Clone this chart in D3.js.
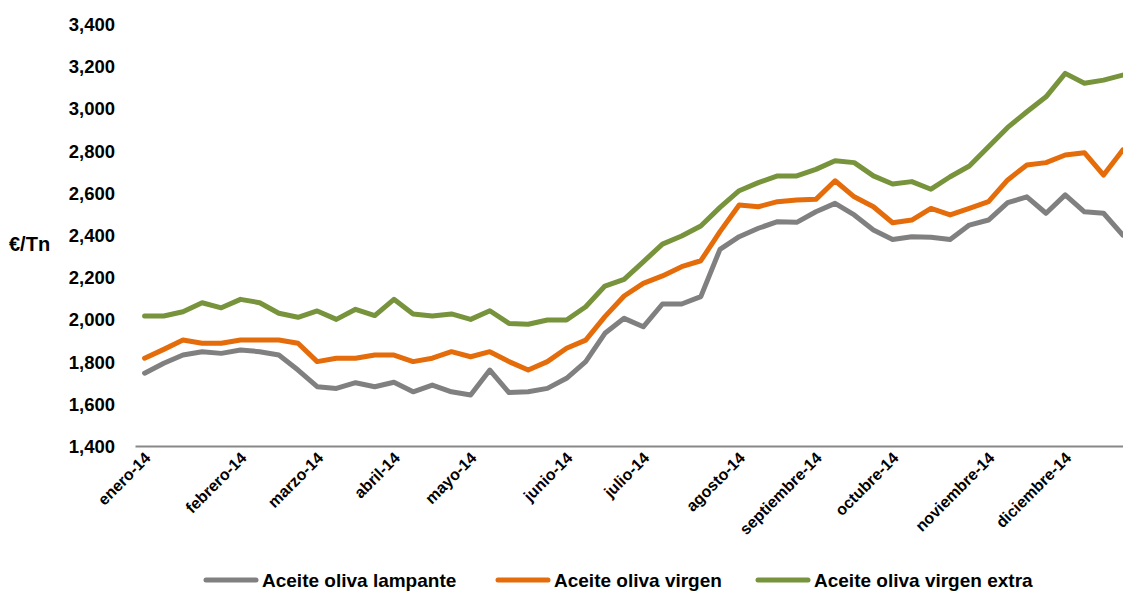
<!DOCTYPE html>
<html>
<head>
    <meta charset="utf-8">
    <style>
        body { margin: 0; background: #fff; }
        svg { display: block; }
        text { font-family: "Liberation Sans", Arial, sans-serif; font-weight: bold; fill: #000; }
    </style>
</head>
<body>
    <script src="https://cdn.jsdelivr.net/npm/d3@7"></script>
    <script>
        // weekly prices 2014, €/Tn
        var months = ["enero-14", "febrero-14", "marzo-14", "abril-14", "mayo-14", "junio-14",
            "julio-14", "agosto-14", "septiembre-14", "octubre-14", "noviembre-14", "diciembre-14"];
        var monthWeek = [0, 5, 9, 13, 17, 22, 26, 31, 35, 39, 44, 48];
        var yTicks = [1400, 1600, 1800, 2000, 2200, 2400, 2600, 2800, 3000, 3200, 3400];

        var lampante = [1745, 1792, 1831, 1847, 1839, 1855, 1847, 1831, 1760, 1681, 1673, 1700, 1681,
            1702, 1657, 1689, 1657, 1642, 1760, 1653, 1657, 1673, 1721, 1800, 1934, 2005,
            1965, 2073, 2073, 2108, 2332, 2392, 2432, 2463, 2460, 2510, 2550, 2495, 2424,
            2379, 2392, 2389, 2379, 2447, 2471, 2553, 2581, 2503, 2590, 2510, 2503, 2400];
        var virgen = [1816, 1858, 1902, 1887, 1887, 1902, 1902, 1902, 1887, 1800, 1816, 1816, 1831,
            1831, 1800, 1816, 1847, 1823, 1847, 1800, 1760, 1800, 1863, 1902, 2013, 2111,
            2171, 2206, 2250, 2278, 2416, 2542, 2534, 2558, 2566, 2569, 2657, 2581, 2534,
            2458, 2471, 2526, 2495, 2526, 2558, 2661, 2732, 2743, 2779, 2790, 2684, 2803];
        var virgenExtra = [2016, 2016, 2036, 2079, 2055, 2095, 2079, 2029, 2010, 2040, 2000, 2048, 2018,
            2095, 2026, 2016, 2026, 2000, 2041, 1981, 1977, 1997, 1997, 2060, 2158, 2190,
            2273, 2357, 2395, 2443, 2531, 2610, 2648, 2680, 2680, 2711, 2752, 2743, 2680,
            2642, 2653, 2617, 2676, 2727, 2818, 2910, 2984, 3055, 3166, 3119, 3134, 3158];

        var seriesNames = ["Aceite oliva lampante", "Aceite oliva virgen", "Aceite oliva virgen extra"];
        var colors = ["#808080", "#E46C0A", "#77933C"];

        var width = 1123, height = 593;
        var weeks = d3.range(lampante.length);
        var step = 19.18;

        var x = d3.scaleBand()
            .domain(weeks)
            .range([135, 135 + step * weeks.length])
            .paddingInner(0).paddingOuter(0);
        var y = d3.scaleLinear()
            .domain([1400, 3400])
            .range([446, 24]);

        var svg = d3.select("body").append("svg")
            .attr("width", width)
            .attr("height", height);

        // y axis labels
        var yAxis = d3.axisLeft(y).tickValues(yTicks).tickSize(0).tickPadding(0)
            .tickFormat(d3.format(","));
        var yAxisNodes = svg.append("g")
            .attr("transform", "translate(115,0)")
            .call(yAxis);
        yAxisNodes.select(".domain").remove();
        yAxisNodes.selectAll("text")
            .attr("font-size", 18.5)
            .style("font-family", null)
            .attr("dy", "0.35em");

        svg.append("text")
            .attr("x", 9)
            .attr("y", 251)
            .attr("font-size", 20)
            .text("€/Tn");

        // x axis
        var xAxis = d3.axisBottom(x).tickValues(monthWeek).tickSize(0)
            .tickFormat(function (d) { return months[monthWeek.indexOf(d)]; });
        var xAxisNodes = svg.append("g")
            .attr("transform", "translate(0,446)")
            .call(xAxis);
        xAxisNodes.select(".domain")
            .attr("stroke", "#888")
            .attr("stroke-width", 2);
        xAxisNodes.selectAll(".tick text")
            .attr("font-size", 16)
            .style("font-family", null)
            .attr("text-anchor", "end")
            .attr("y", 0).attr("dy", 0)
            .attr("transform", "translate(7,13) rotate(-45)");

        // lines
        var line = d3.line()
            .x(function (d, i) { return x(i) + x.bandwidth() / 2; })
            .y(function (d) { return y(d); });

        svg.append("g")
            .selectAll("path")
            .data([lampante, virgen, virgenExtra])
            .enter()
            .append("path")
            .attr("d", line)
            .attr("fill", "none")
            .attr("stroke", function (d, i) { return colors[i]; })
            .attr("stroke-width", 5)
            .attr("stroke-linejoin", "round")
            .attr("stroke-linecap", "round");

        // legend
        var legendX = [206, 498, 758];
        var legend = svg.append("g").selectAll("g")
            .data(seriesNames)
            .enter()
            .append("g")
            .attr("transform", function (d, i) { return "translate(" + legendX[i] + ",580)"; });
        legend.append("line")
            .attr("x1", 0).attr("x2", 50)
            .attr("stroke", function (d, i) { return colors[i]; })
            .attr("stroke-width", 5)
            .attr("stroke-linecap", "round");
        legend.append("text")
            .attr("x", 56)
            .attr("dy", "0.35em")
            .attr("font-size", 19)
            .text(function (d) { return d; });
    </script>
</body>
</html>
